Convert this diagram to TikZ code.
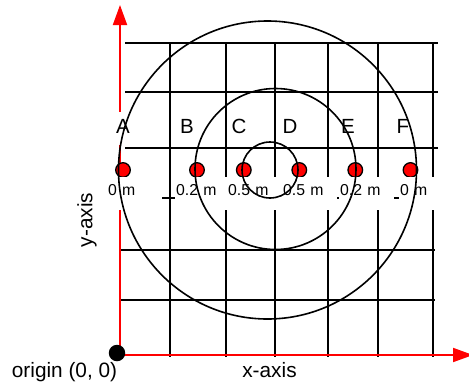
\documentclass[tikz,border=0pt]{standalone}
\usepackage{fontspec}
\setmainfont{Liberation Sans}
\usetikzlibrary{arrows.meta}

\begin{document}
\begin{tikzpicture}[x=1pt, y=-1pt,
  gridline/.style={line width=1.7pt},
  axisline/.style={red, line width=1.9pt, -{Triangle[length=20pt,width=14pt]}},
  ring/.style={line width=1.6pt},
  probe/.style={circle, draw=black, fill=red, line width=1.3pt, minimum size=14.6pt, inner sep=0pt},
  letter/.style={fill=white, anchor=base, inner xsep=1pt, inner ysep=0pt, text height=21pt, text depth=12pt, font=\fontsize{20.5}{24}\selectfont},
  dist/.style={fill=white, anchor=base west, inner xsep=1pt, inner ysep=0pt, text width=53pt, align=left, text height=18pt, text depth=15pt, font=\fontsize{15.8}{18}\selectfont},
  axislabel/.style={font=\fontsize{20.8}{24}\selectfont}]

\useasboundingbox (0,0) rectangle (469,381);

% Grid
\foreach \gx in {170,226,275,328,378,433}
  \draw[gridline] (\gx,42) -- (\gx,357);
\foreach \gy in {43,92,148}
  \draw[gridline] (125,\gy) -- (438,\gy);
\foreach \gy in {198,250,300}
  \draw[gridline] (120,\gy) -- (435,\gy);

% Axes
\coordinate (origin) at (120,355);
\coordinate (ytip) at (120,5);
\coordinate (xtip) at (473,355);
\draw[axisline] (origin) -- (ytip);
\draw[axisline] (origin) -- (xtip);
\node[circle, fill=black, minimum size=16.5pt, inner sep=0pt] (odot) at (117,353) {};

% Probe points
\node[probe] (pA) at (123,170) {};
\node[probe] (pB) at (197,170) {};
\node[probe] (pC) at (243.8,170) {};
\node[probe] (pD) at (299.3,170) {};
\node[probe] (pE) at (355.3,170) {};
\node[probe] (pF) at (410.5,170) {};

% Point names
\node[letter] (lA) at (123,133) {A};
\node[letter] (lB) at (187,133) {B};
\node[letter] (lC) at (239,133) {C};
\node[letter] (lD) at (290,133) {D};
\node[letter] (lE) at (348,133) {E};
\node[letter] (lF) at (403,133) {F};

% Distances
\node[dist] (dA) at (107,195) {0 m};
\node[dist] (dB) at (175,195) {0.2 m};
\node[dist] (dC) at (227,195) {0.5 m};
\node[dist] (dD) at (282,195) {0.5 m};
\node[dist] (dE) at (339,195) {0.2 m};
\node[dist] (dF) at (399,195) {0 m};

% Rings
\draw[ring] (267.5,170) circle[radius=149pt];
\draw[ring] (275.5,169) circle[radius=80.5pt];
\draw[ring] (270,170) circle[radius=28pt];

% Axis labels
\node[axislabel, anchor=base] (xlab) at (269.5,377) {x-axis};
\node[axislabel, anchor=base west, inner sep=0pt] (olab) at (11.7,377) {origin (0, 0)};
\node[axislabel, rotate=90] (ylab) at (87,220) {y-axis};

\end{tikzpicture}
\end{document}
